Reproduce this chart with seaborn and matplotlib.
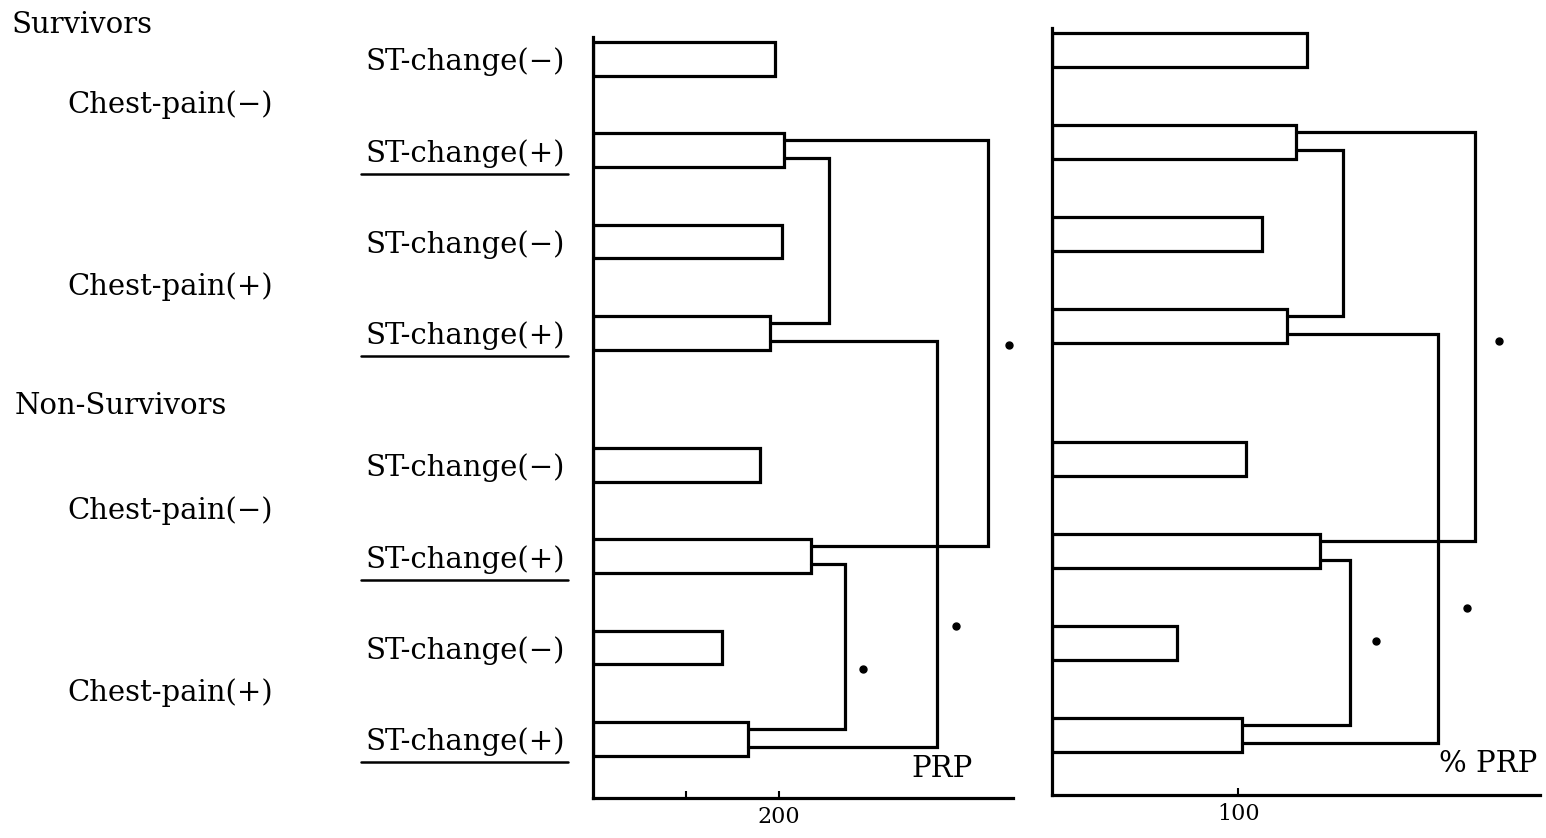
import matplotlib
matplotlib.use("Agg")  # no display

import matplotlib.pyplot as plt
import matplotlib.transforms as mtransforms
import pandas as pd
import seaborn as sns
from matplotlib.lines import Line2D

# data
groups = ["Survivors"] * 4 + ["Non-Survivors"] * 4
chest_pain = ["Chest-pain(−)", "Chest-pain(−)", "Chest-pain(+)", "Chest-pain(+)"] * 2
st_change = ["ST-change(−)", "ST-change(+)"] * 4
prp = [196, 206, 203, 190, 180, 235, 139, 167]
pct_prp = [137, 131, 113, 126, 104, 144, 67, 102]

# significance brackets: (upper bar, side, lower bar, side, x of vertical line)
prp_brackets = [(1, "lo", 3, "up", 254), (1, "up", 5, "up", 425),
                (3, "lo", 7, "lo", 370), (5, "lo", 7, "up", 271)]
pct_brackets = [(1, "lo", 3, "up", 156), (1, "up", 5, "up", 227),
                (3, "lo", 7, "lo", 207), (5, "lo", 7, "up", 160)]
# significance dots (x value, row position)
prp_dots = [(448, 3.14), (391, 6.22), (291, 6.69)]
pct_dots = [(240, 3.16), (223, 6.07), (174, 6.43)]

GROUP_GAP = 0.45
SIDE = {"up": -0.11, "lo": 0.09}
LW = 2.3
FS = 21

df = pd.DataFrame({"group": groups, "chest": chest_pain, "st": st_change,
                   "prp": prp, "pct": pct_prp})
df["pos"] = df.index + GROUP_GAP * (df["group"] == "Non-Survivors")

sns.set_style("ticks")
plt.rcParams["font.family"] = ["DejaVu Serif"]
plt.rcParams.update({"text.color": "black", "axes.edgecolor": "black",
                     "xtick.color": "black", "ytick.color": "black",
                     "axes.labelcolor": "black"})

W, H = 1546, 838
fig = plt.figure(figsize=(W / 100, H / 100), dpi=100)
ax1 = fig.add_axes([593 / W, 40 / H, 420 / W, 761 / H])
ax2 = fig.add_axes([1052 / W, 43 / H, 488 / W, 767 / H])


def draw_panel(ax, col, xmax, ticks, ticklabels, brackets, dots, unit):
    sns.barplot(data=df, x=col, y="pos", orient="h", native_scale=True,
                width=0.37, color="white", saturation=1, edgecolor="black",
                linewidth=LW, errorbar=None, ax=ax)
    vals = df[col].tolist()
    pos = df["pos"].tolist()
    for i, si, j, sj, bx in brackets:
        yi = pos[i] + SIDE[si]
        yj = pos[j] + SIDE[sj]
        ax.plot([vals[i], bx, bx, vals[j]], [yi, yi, yj, yj],
                color="black", lw=LW, solid_joinstyle="miter", clip_on=False)
    for dx, dy in dots:
        ax.plot(dx, dy, "o", color="black", ms=5, clip_on=False)
    ax.set_xlim(0, xmax)
    ax.set_ylim(8.1, -0.24)
    ax.set_xticks(ticks)
    ax.set_xticklabels(ticklabels, fontsize=16)
    ax.tick_params(axis="x", direction="in", length=5, width=1.5, pad=6)
    ax.set_xlabel("")
    ax.set_ylabel("")
    sns.despine(ax=ax)
    for s in ("left", "bottom"):
        ax.spines[s].set_linewidth(LW)
    ax.text(unit[1], unit[2], unit[0], transform=ax.transAxes,
            ha="right", va="bottom", fontsize=FS)


draw_panel(ax1, "prp", 452, [100, 200], ["", "200"], prp_brackets, prp_dots,
           ("PRP", 0.905, 0.02))
draw_panel(ax2, "pct", 262, [100], ["100"], pct_brackets, pct_dots,
           ("% PRP", 0.994, 0.022))

ax1.set_yticks(df["pos"])
ax1.set_yticklabels(df["st"], fontsize=FS)
ax1.tick_params(axis="y", length=0, pad=20)
ax2.set_yticks([])

# group and chest-pain labels on the left
tr = mtransforms.blended_transform_factory(fig.transFigure, ax1.transData)
fig.text(12 / W, -0.37, "Survivors", transform=tr, fontsize=FS,
         ha="left", va="center")
fig.text(15 / W, 3.80, "Non-Survivors", transform=tr, fontsize=FS,
         ha="left", va="center")
for k in range(0, 8, 2):
    ymid = (df["pos"][k] + df["pos"][k + 1]) / 2
    fig.text(170 / W, ymid, df["chest"][k], transform=tr, fontsize=FS,
             ha="center", va="center")

# underline the ST-change(+) labels
fig.canvas.draw()
for lab in ax1.get_yticklabels():
    if "(+)" in lab.get_text():
        bb = lab.get_window_extent()
        y = bb.y0 - 6
        fig.add_artist(Line2D([(bb.x0 - 5) / W, (bb.x1 + 3) / W], [y / H, y / H],
                              color="black", lw=1.8, transform=fig.transFigure))

fig.savefig("out.png", dpi=100, facecolor="white")
